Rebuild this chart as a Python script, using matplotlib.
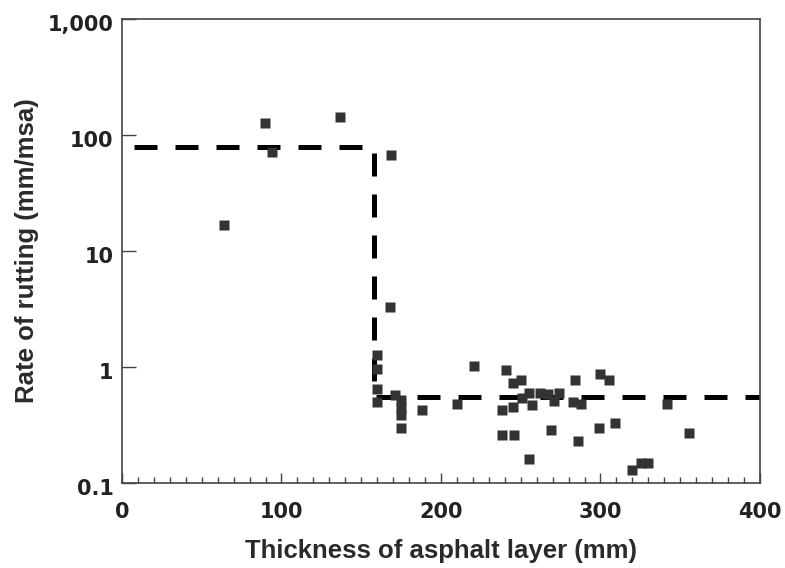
import numpy as np
import matplotlib.pyplot as plt
import matplotlib.transforms as mtransforms
from matplotlib.ticker import FixedLocator, FixedFormatter, MultipleLocator, NullLocator

# measured points: thickness (mm) and rate of rutting (mm/msa)
thickness = [64, 89.5, 94, 136.5, 168.5, 168, 160, 160, 160, 160, 171, 174.7, 174.7,
             174.7, 174.7, 188, 210, 221, 238, 238, 241, 245, 250, 245, 246, 250.6,
             255, 257, 255, 262, 267, 269, 271, 274, 284, 283, 288, 285.7, 300, 305.5,
             299, 309, 320, 325.4, 330, 341.5, 355.5]
rutting = [16.6, 126, 72, 144, 67, 3.27, 1.26, 0.97, 0.65, 0.50, 0.57, 0.52, 0.44,
           0.385, 0.30, 0.43, 0.48, 1.03, 0.43, 0.26, 0.94, 0.73, 0.78, 0.455, 0.26, 0.54,
           0.60, 0.47, 0.16, 0.60, 0.58, 0.286, 0.51, 0.60, 0.77, 0.50, 0.48, 0.23, 0.865,
           0.78, 0.30, 0.33, 0.13, 0.15, 0.15, 0.48, 0.27]

# step trend line
step_x = [7.5, 158, 158, 400]
step_y = [79, 79, 0.55, 0.55]

y_ticks = [0.1, 1, 10, 100, 1000]
y_labels = ['0.1', '1', '10', '100', '1,000']

fig = plt.figure(figsize=(7.85, 5.68), dpi=100)
ax = fig.add_axes([0.1554, 0.1496, 0.8127, 0.817])

ax.plot(step_x, step_y, color='black', lw=3.6, dashes=(4.6, 3.6), zorder=2)
ax.plot(thickness, rutting, 's', color='#333333', ms=7.2, mec='none', zorder=3)

ax.set_yscale('log')
ax.set_xlim(0, 400)
ax.set_ylim(0.1, 1000)

ax.yaxis.set_major_locator(FixedLocator(y_ticks))
ax.yaxis.set_major_formatter(FixedFormatter(y_labels))
ax.yaxis.set_minor_locator(NullLocator())
ax.xaxis.set_major_locator(MultipleLocator(100))
ax.xaxis.set_minor_locator(MultipleLocator(10))

ax.tick_params(axis='y', which='major', direction='in', length=10, width=1,
               color='#444444', labelsize=15, pad=6)
ax.tick_params(axis='x', which='major', direction='in', length=7, width=1,
               color='#444444', labelsize=15, pad=14)
ax.tick_params(axis='x', which='minor', direction='in', length=4, width=1, color='#444444')

# tick labels sit slightly below their ticks in the original
shift = mtransforms.ScaledTranslation(0, -4 / 100, fig.dpi_scale_trans)
for lab in ax.get_yticklabels():
    lab.set_transform(lab.get_transform() + shift)
for lab in ax.get_xticklabels() + ax.get_yticklabels():
    lab.set_fontweight('bold')
    lab.set_family('DejaVu Sans')
    lab.set_color('#222222')

for sp in ax.spines.values():
    sp.set_color('#444444')
    sp.set_linewidth(1.2)

ax.set_xlabel('Thickness of asphalt layer (mm)', fontsize=18.5, fontweight='bold',
              family='Liberation Sans', color='#2a2a2a', labelpad=12)
ax.set_ylabel('Rate of rutting (mm/msa)', fontsize=18.5, fontweight='bold',
              family='Liberation Sans', color='#2a2a2a', labelpad=6)

fig.savefig('out.png', dpi=100)
